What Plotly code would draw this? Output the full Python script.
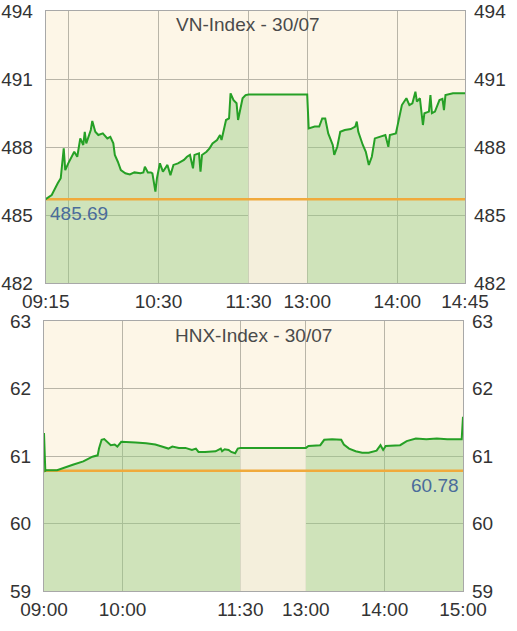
import plotly.graph_objects as go

W, H = 517, 631

# ---------------- data ----------------
vn_times = ["09:15","09:19","09:23","09:25","09:27","09:28","09:30","09:34","09:36","09:38",
            "09:40","09:41","09:42","09:45","09:46","09:48","09:50","09:53","09:56","09:58",
            "10:00","10:01","10:03","10:05","10:08","10:11","10:14","10:18","10:20","10:21",
            "10:23","10:25","10:26","10:28","10:29","10:31","10:33","10:36","10:38","10:40",
            "10:43","10:47","10:49","10:51","10:53","10:54","10:57","10:58","10:59","11:02",
            "11:04","11:06","11:09","11:11","11:12","11:14","11:15","11:17","11:18","11:20",
            "11:22","11:23","11:25","11:26","11:28","11:30",
            "13:00","13:01","13:05","13:08","13:10","13:12","13:14","13:17","13:18","13:20",
            "13:22","13:25","13:29","13:32","13:33","13:34","13:37","13:39","13:41","13:43",
            "13:45","13:49","13:52","13:54","13:55","13:59","14:01","14:03","14:06","14:08",
            "14:10","14:12","14:13","14:15","14:17","14:18","14:21","14:22","14:23","14:25",
            "14:28","14:30","14:31","14:32","14:37","14:45"]
vn_values = [485.70,485.88,486.40,486.62,487.94,486.98,487.28,487.79,487.57,488.38,
             488.09,488.67,488.16,488.75,489.15,488.67,488.53,488.60,488.38,488.45,
             488.16,487.65,487.35,486.98,486.84,486.79,486.88,486.84,486.88,487.13,
             486.88,486.88,486.84,486.03,486.62,487.28,486.91,487.21,486.76,487.21,
             487.28,487.43,487.57,487.65,487.06,487.65,487.72,486.91,487.65,487.79,
             487.94,488.16,488.31,488.53,488.31,488.97,489.19,489.26,490.37,490.07,
             489.93,489.19,489.85,490.15,490.29,490.32,
             490.32,488.82,488.90,488.90,489.26,489.26,488.60,488.09,487.65,488.01,
             488.67,488.75,488.79,488.90,489.12,488.67,488.09,487.79,487.21,487.57,
             488.38,488.45,488.53,488.01,488.53,488.60,489.26,489.85,490.15,489.85,
             489.93,490.44,490.00,490.15,488.97,489.49,489.56,490.29,489.49,489.56,
             490.07,490.12,489.63,490.29,490.37,490.37]
vn_ref = 485.69
vn_title = "VN-Index - 30/07"
vn_yticks = [482, 485, 488, 491, 494]
vn_xtick_times = ["09:15", "09:30", "10:30", "11:30", "13:00", "14:00", "14:45"]
vn_xtick_labels = ["09:15", "", "10:30", "11:30", "13:00", "14:00", "14:45"]

hnx_times = ["09:00","09:01","09:02","09:10","09:22","09:30","09:37","09:41","09:42","09:44",
             "09:46","09:49","09:51","09:54","09:56","09:59","10:03","10:10","10:18","10:25",
             "10:30","10:35","10:38","10:43","10:48","10:53","10:56","10:58","11:03","11:11",
             "11:15","11:16","11:18","11:21","11:23","11:26","11:28","11:30",
             "13:00","13:02","13:11","13:14","13:20","13:27","13:29","13:33","13:38","13:43",
             "13:48","13:54","13:57","13:59","14:01","14:05","14:12","14:17","14:24","14:32",
             "14:40","14:48","14:59","15:00"]
hnx_values = [61.34,60.78,60.79,60.79,60.87,60.92,60.99,61.01,61.11,61.24,
              61.25,61.19,61.16,61.17,61.14,61.21,61.21,61.20,61.19,61.17,
              61.14,61.11,61.14,61.12,61.12,61.09,61.11,61.06,61.06,61.07,
              61.11,61.07,61.10,61.09,61.06,61.04,61.11,61.12,
              61.12,61.15,61.16,61.24,61.25,61.24,61.17,61.11,61.07,61.05,
              61.05,61.08,61.16,61.09,61.15,61.15,61.16,61.22,61.26,61.25,
              61.26,61.25,61.25,61.58]
hnx_ref = 60.78
hnx_title = "HNX-Index - 30/07"
hnx_yticks = [59, 60, 61, 62, 63]
hnx_xtick_times = ["09:00", "10:00", "11:30", "13:00", "14:00", "15:00"]
hnx_xtick_labels = ["09:00", "10:00", "11:30", "13:00", "14:00", "15:00"]

LUNCH_START, LUNCH_END = "11:30", "13:00"

# ---------------- style ----------------
FONT = "Liberation Sans, Arial, sans-serif"
FS = 19
TXT = "#333333"
PLOT_BG = "#fdf6e7"
LUNCH_BG = "#f4efdc"
GREEN_FILL = "rgba(150,205,130,0.45)"
GREEN_LINE = "#26a026"
ORANGE = "#f0aa3c"
GRID = "#b9b5a8"
BORDER = "#a8a8a8"
LABEL_BLUE = "#4a6c9b"


def mins(t):
    h, m = t.split(":")
    return int(h) * 60 + int(m)


def make_mapper(open_t, lunch_span):
    o, ls, le = mins(open_t), mins(LUNCH_START), mins(LUNCH_END)

    def f(t):
        m = mins(t)
        if m <= ls:
            return m - o
        return (ls - o) + lunch_span + (m - le)
    return f


panels = [
    dict(times=vn_times, values=vn_values, ref=vn_ref, title=vn_title, yticks=vn_yticks,
         xt=vn_xtick_times, xl=vn_xtick_labels, lunch=39,
         px_x=(45.7, 465), px_y=(11, 283), title_px=(247.5, 25), ref_label="left",
         xa="x", ya="y", yr="y3"),
    dict(times=hnx_times, values=hnx_values, ref=hnx_ref, title=hnx_title, yticks=hnx_yticks,
         xt=hnx_xtick_times, xl=hnx_xtick_labels, lunch=50,
         px_x=(44, 463), px_y=(321, 591), title_px=(254, 335), ref_label="right",
         xa="x2", ya="y2", yr="y4"),
]

fig = go.Figure()
layout = dict(width=W, height=H, margin=dict(l=0, r=0, t=0, b=0, autoexpand=False),
              paper_bgcolor="white", plot_bgcolor=PLOT_BG, showlegend=False,
              font=dict(family=FONT, size=FS, color=TXT), annotations=[])

for p in panels:
    f = make_mapper(p["times"][0], p["lunch"])
    xs = [f(t) for t in p["times"]]
    ys = p["values"]
    x0, x1 = xs[0], xs[-1]
    ls, le = mins(LUNCH_START), mins(LUNCH_END)
    morning = [(x, y) for t, x, y in zip(p["times"], xs, ys) if mins(t) <= ls]
    lunch = [(x, y) for t, x, y in zip(p["times"], xs, ys) if ls <= mins(t) <= le]
    after = [(x, y) for t, x, y in zip(p["times"], xs, ys) if mins(t) >= le]

    for seg, col in ((morning, GREEN_FILL), (lunch, LUNCH_BG), (after, GREEN_FILL)):
        fig.add_trace(go.Scatter(x=[a for a, _ in seg], y=[b for _, b in seg], mode="lines",
                                 line=dict(width=0), fill="tozeroy", fillcolor=col,
                                 xaxis=p["xa"], yaxis=p["ya"], hoverinfo="skip"))
    # reference line
    fig.add_trace(go.Scatter(x=[x0, x1], y=[p["ref"], p["ref"]], mode="lines",
                             line=dict(color=ORANGE, width=2.5),
                             xaxis=p["xa"], yaxis=p["ya"], hoverinfo="skip"))
    # index line
    fig.add_trace(go.Scatter(x=xs, y=ys, mode="lines", line=dict(color=GREEN_LINE, width=2),
                             xaxis=p["xa"], yaxis=p["ya"]))
    # invisible trace for right-hand axis
    fig.add_trace(go.Scatter(x=[x0], y=[p["ref"]], mode="markers", marker=dict(opacity=0),
                             xaxis=p["xa"], yaxis=p["yr"], hoverinfo="skip"))

    xdom = [p["px_x"][0] / W, p["px_x"][1] / W]
    ydom = [1 - p["px_y"][1] / H, 1 - p["px_y"][0] / H]
    xname = "xaxis" if p["xa"] == "x" else "xaxis" + p["xa"][1:]
    yname = "yaxis" if p["ya"] == "y" else "yaxis" + p["ya"][1:]
    rname = "yaxis" + p["yr"][1:]
    yrange = [p["yticks"][0], p["yticks"][-1]]
    layout[xname] = dict(domain=xdom, range=[x0, x1], anchor=p["ya"], automargin=False,
                         tickvals=[f(t) for t in p["xt"]], ticktext=p["xl"],
                         showgrid=True, gridcolor=GRID, gridwidth=1, zeroline=False,
                         showline=True, linecolor=BORDER, linewidth=1, mirror=True,
                         ticks="", ticklabelstandoff=1, tickfont=dict(size=FS, color=TXT))
    layout[yname] = dict(domain=ydom, range=yrange, anchor=p["xa"], tickvals=p["yticks"],
                         automargin=False,
                         showgrid=True, gridcolor=GRID, gridwidth=1, zeroline=False,
                         showline=True, linecolor=BORDER, linewidth=1, mirror=True,
                         ticks="", ticklabelstandoff=8, tickfont=dict(size=FS, color=TXT))
    layout[rname] = dict(overlaying=p["ya"], side="right", anchor=p["xa"], range=yrange,
                         automargin=False,
                         tickvals=p["yticks"], showgrid=False, zeroline=False, showline=False,
                         ticks="", ticklabelstandoff=8, tickfont=dict(size=FS, color=TXT))

    layout["annotations"].append(dict(text=p["title"], xref="paper", yref="paper",
                                      x=p["title_px"][0] / W, y=1 - p["title_px"][1] / H,
                                      xanchor="center", yanchor="middle", showarrow=False,
                                      font=dict(size=FS, color="#4a4a4a")))
    if p["ref_label"] == "left":
        layout["annotations"].append(dict(text=f"{p['ref']:.2f}", xref=p["xa"], yref=p["ya"],
                                          x=x0, y=p["ref"], xanchor="left", yanchor="top",
                                          xshift=2, yshift=-2, showarrow=False,
                                          font=dict(size=FS, color=LABEL_BLUE)))
    else:
        layout["annotations"].append(dict(text=f"{p['ref']:.2f}", xref=p["xa"], yref=p["ya"],
                                          x=x1, y=p["ref"], xanchor="right", yanchor="top",
                                          xshift=-2, yshift=-2, showarrow=False,
                                          font=dict(size=FS, color=LABEL_BLUE)))

fig.update_layout(**layout)
fig.write_html("out.html", config={"displayModeBar": False},
               post_script="document.body.style.margin='0';document.body.style.overflow='hidden';")
